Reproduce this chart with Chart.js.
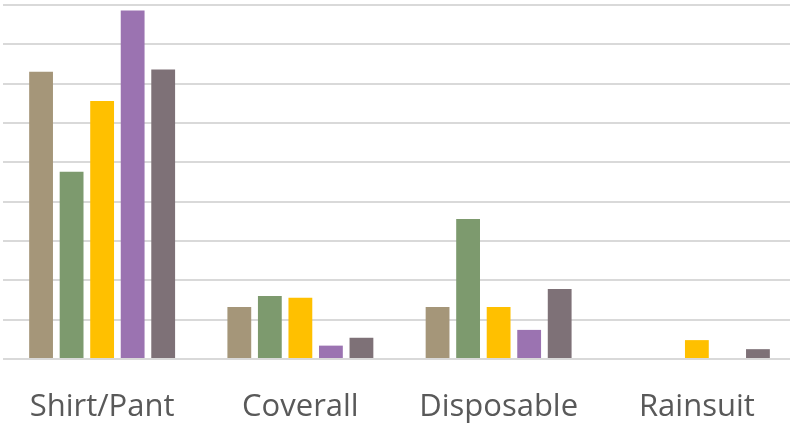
<!DOCTYPE html>
<html>
<head>
<meta charset="utf-8">
<script src="https://cdn.jsdelivr.net/npm/chart.js@4.4.0/dist/chart.umd.min.js"></script>
<style>
  html, body { margin: 0; padding: 0; background: #fff; overflow: hidden; }
  #wrap { width: 796px; height: 428px; }
</style>
</head>
<body>
<div id="wrap"><canvas id="chart"></canvas></div>
<script>
const categories = ["Shirt/Pant", "Coverall", "Disposable", "Rainsuit"];
const series1 = [36.5, 6.6, 6.6, 0];
const series2 = [23.8, 8.0, 17.8, 0];
const series3 = [32.8, 7.8, 6.6, 2.4];
const series4 = [44.3, 1.7, 3.7, 0];
const series5 = [36.8, 2.7, 8.9, 1.25];
const seriesNames = ["Series 1", "Series 2", "Series 3", "Series 4", "Series 5"];
const seriesColors = ["#A59679", "#7D9A6E", "#FFC000", "#9B73B1", "#7E7177"];

const allSeries = [series1, series2, series3, series4, series5];

new Chart(document.getElementById("chart"), {
  type: "bar",
  data: {
    labels: categories,
    datasets: allSeries.map((values, i) => ({
      label: seriesNames[i],
      data: values,
      backgroundColor: seriesColors[i],
      borderWidth: 0,
      categoryPercentage: 0.77,
      barPercentage: 0.78,
    })),
  },
  options: {
    responsive: true,
    maintainAspectRatio: false,
    animation: false,
    layout: { padding: { left: 3, top: 5, right: 0, bottom: 0 } },
    plugins: {
      legend: { display: false },
      tooltip: { enabled: false },
    },
    scales: {
      x: {
        grid: { display: false },
        border: { display: false },
        ticks: {
          color: "#595959",
          font: { family: "'Open Sans'", size: 31 },
          padding: 22,
          maxRotation: 0,
        },
        afterFit: (scale) => { scale.height = 69; },
      },
      y: {
        min: 0,
        max: 45,
        ticks: { display: false, stepSize: 5 },
        border: { display: false },
        grid: { color: "#D9D9D9", lineWidth: 2, drawTicks: false },
      },
    },
  },
});
</script>
</body>
</html>
